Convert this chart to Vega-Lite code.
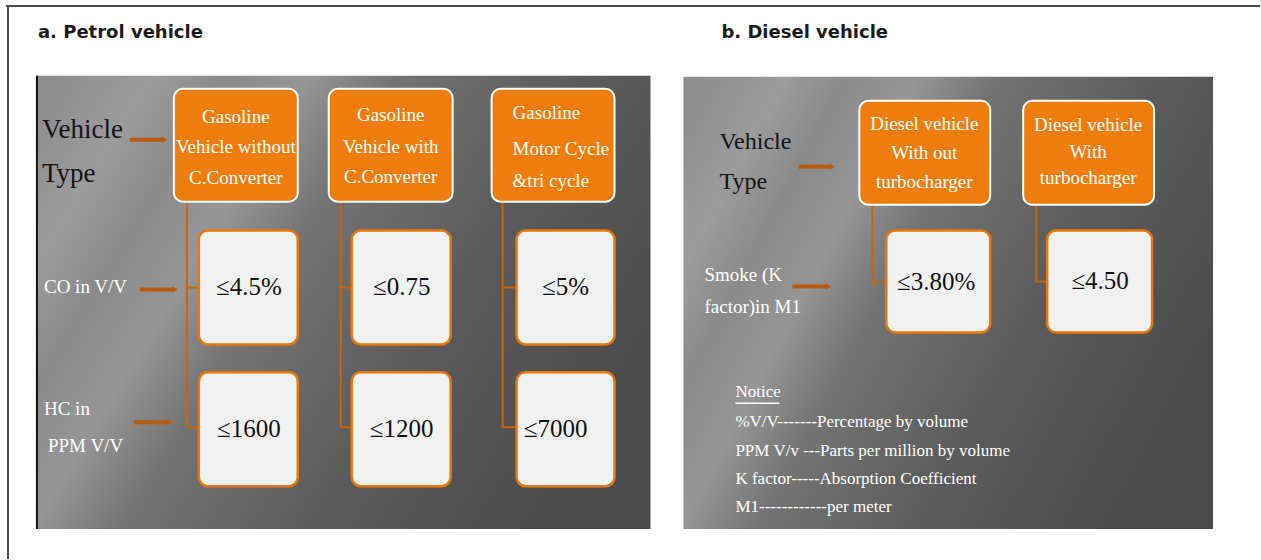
{
  "$schema": "https://vega.github.io/schema/vega-lite/v6.json",
  "width": 1261,
  "height": 560,
  "autosize": {"type": "fit", "contains": "padding"},
  "padding": 0,
  "background": "#ffffff",
  "config": {"view": {"stroke": null}},
  "datasets": {
    "frame": [
      {"x": 6, "x2": 1261, "y": 6, "y2": 6},
      {"x": 8, "x2": 8, "y": 6, "y2": 560}
    ],
    "panels": [
      {"panel": "a", "x": 36, "x2": 651, "y": 76, "y2": 530},
      {"panel": "b", "x": 684, "x2": 1214, "y": 77, "y2": 530}
    ],
    "edges": [
      {"x": 37, "x2": 37, "y": 76, "y2": 530}
    ],
    "connectors": [
      {"x": 187, "x2": 187, "y": 202, "y2": 428},
      {"x": 187, "x2": 200, "y": 288, "y2": 288},
      {"x": 187, "x2": 200, "y": 428, "y2": 428},
      {"x": 341, "x2": 341, "y": 202, "y2": 428},
      {"x": 341, "x2": 353, "y": 288, "y2": 288},
      {"x": 341, "x2": 353, "y": 428, "y2": 428},
      {"x": 503, "x2": 503, "y": 202, "y2": 428},
      {"x": 503, "x2": 517, "y": 288, "y2": 288},
      {"x": 503, "x2": 517, "y": 428, "y2": 428},
      {"x": 873, "x2": 873, "y": 205, "y2": 283},
      {"x": 873, "x2": 887, "y": 283, "y2": 283},
      {"x": 1037, "x2": 1037, "y": 205, "y2": 282},
      {"x": 1037, "x2": 1048, "y": 282, "y2": 282}
    ],
    "arrows": [
      {"x": 130, "x2": 163, "y": 140, "tip": 165},
      {"x": 140, "x2": 173, "y": 290, "tip": 175},
      {"x": 134, "x2": 168, "y": 423, "tip": 170},
      {"x": 799, "x2": 831, "y": 167, "tip": 833},
      {"x": 793, "x2": 827, "y": 287, "tip": 829}
    ],
    "typeBoxes": [
      {"x": 174, "x2": 298, "y": 89, "y2": 202},
      {"x": 329, "x2": 453, "y": 89, "y2": 202},
      {"x": 492, "x2": 615, "y": 89, "y2": 202},
      {"x": 860, "x2": 991, "y": 101, "y2": 205},
      {"x": 1024, "x2": 1155, "y": 101, "y2": 205}
    ],
    "valueBoxes": [
      {"x": 199, "x2": 298, "y": 231, "y2": 345},
      {"x": 352, "x2": 451, "y": 231, "y2": 345},
      {"x": 517, "x2": 615, "y": 231, "y2": 345},
      {"x": 199, "x2": 298, "y": 373, "y2": 487},
      {"x": 352, "x2": 451, "y": 373, "y2": 487},
      {"x": 517, "x2": 615, "y": 373, "y2": 487},
      {"x": 887, "x2": 991, "y": 231, "y2": 333},
      {"x": 1048, "x2": 1153, "y": 231, "y2": 333}
    ],
    "typeTextCentered": [
      {"x": 236, "y": 117, "t": "Gasoline"},
      {"x": 236, "y": 147, "t": "Vehicle without"},
      {"x": 236, "y": 178, "t": "C.Converter"},
      {"x": 391, "y": 115, "t": "Gasoline"},
      {"x": 391, "y": 147, "t": "Vehicle with"},
      {"x": 391, "y": 177, "t": "C.Converter"},
      {"x": 925, "y": 124, "t": "Diesel vehicle"},
      {"x": 925, "y": 153, "t": "With out"},
      {"x": 925, "y": 182, "t": "turbocharger"},
      {"x": 1089, "y": 125, "t": "Diesel vehicle"},
      {"x": 1089, "y": 152, "t": "With"},
      {"x": 1089, "y": 178, "t": "turbocharger"}
    ],
    "typeTextLeft": [
      {"x": 513, "y": 113, "t": "Gasoline"},
      {"x": 513, "y": 149, "t": "Motor Cycle"},
      {"x": 513, "y": 181, "t": "&tri cycle"}
    ],
    "values": [
      {"x": 249, "y": 288, "t": "≤4.5%"},
      {"x": 402, "y": 288, "t": "≤0.75"},
      {"x": 566, "y": 288, "t": "≤5%"},
      {"x": 249, "y": 430, "t": "≤1600"},
      {"x": 402, "y": 430, "t": "≤1200"},
      {"x": 556, "y": 430, "t": "≤7000"},
      {"x": 937, "y": 283, "t": "≤3.80%"},
      {"x": 1101, "y": 282, "t": "≤4.50"}
    ],
    "blackLabelsA": [
      {"x": 42, "y": 130, "t": "Vehicle"},
      {"x": 42, "y": 174, "t": "Type"}
    ],
    "blackLabelsB": [
      {"x": 720, "y": 142, "t": "Vehicle"},
      {"x": 720, "y": 182, "t": "Type"}
    ],
    "whiteLabels": [
      {"x": 44, "y": 288, "t": "CO in V/V"},
      {"x": 44, "y": 410, "t": "HC in"},
      {"x": 48, "y": 447, "t": "PPM V/V"},
      {"x": 705, "y": 275, "t": "Smoke (K"},
      {"x": 705, "y": 308, "t": "factor)in M1"}
    ],
    "notice": [
      {"x": 736, "y": 393, "t": "Notice"},
      {"x": 736, "y": 423, "t": "%V/V-------Percentage by volume"},
      {"x": 736, "y": 452, "t": "PPM V/v ---Parts per million by volume"},
      {"x": 736, "y": 480, "t": "K factor-----Absorption Coefficient"},
      {"x": 736, "y": 508, "t": "M1------------per meter"}
    ],
    "underline": [
      {"x": 736, "x2": 780, "y": 404, "y2": 404}
    ],
    "titles": [
      {"x": 38, "y": 33, "t": "a. Petrol vehicle"},
      {"x": 722, "y": 33, "t": "b. Diesel vehicle"}
    ]
  },
  "encoding": {
    "x": {"field": "x", "type": "quantitative", "scale": {"domain": [0, 1261], "nice": false, "zero": false}, "axis": null},
    "y": {"field": "y", "type": "quantitative", "scale": {"domain": [0, 560], "nice": false, "zero": false, "reverse": true}, "axis": null}
  },
  "layer": [
    {
      "data": {"name": "frame"},
      "mark": {"type": "rule", "color": "#4a4a4a", "strokeWidth": 2},
      "encoding": {"x2": {"field": "x2"}, "y2": {"field": "y2"}}
    },
    {
      "data": {"name": "panels"},
      "mark": {
        "type": "rect",
        "fill": {
          "gradient": "linear",
          "x1": 0, "y1": 0.1, "x2": 1, "y2": 0.55,
          "stops": [
            {"offset": 0, "color": "#8e8e8e"},
            {"offset": 0.12, "color": "#9c9c9c"},
            {"offset": 0.22, "color": "#8a8a8a"},
            {"offset": 0.33, "color": "#969696"},
            {"offset": 0.45, "color": "#747474"},
            {"offset": 0.55, "color": "#6a6a6a"},
            {"offset": 0.7, "color": "#5c5c5c"},
            {"offset": 1, "color": "#4c4c4c"}
          ]
        }
      },
      "encoding": {"x2": {"field": "x2"}, "y2": {"field": "y2"}}
    },
    {
      "data": {"name": "edges"},
      "mark": {"type": "rule", "color": "#111111", "strokeWidth": 2},
      "encoding": {"x2": {"field": "x2"}, "y2": {"field": "y2"}}
    },
    {
      "data": {"name": "connectors"},
      "mark": {"type": "rule", "color": "#c8650c", "strokeWidth": 2},
      "encoding": {"x2": {"field": "x2"}, "y2": {"field": "y2"}}
    },
    {
      "data": {"name": "arrows"},
      "mark": {"type": "rule", "color": "#b95a10", "strokeWidth": 4},
      "encoding": {"x2": {"field": "x2"}}
    },
    {
      "data": {"name": "arrows"},
      "mark": {"type": "point", "shape": "triangle-right", "filled": true, "color": "#b95a10", "size": 45, "opacity": 1},
      "encoding": {"x": {"field": "tip", "type": "quantitative"}}
    },
    {
      "data": {"name": "typeBoxes"},
      "mark": {"type": "rect", "fill": "#ee7d0e", "stroke": "#ffffff", "strokeWidth": 2, "cornerRadius": 9},
      "encoding": {"x2": {"field": "x2"}, "y2": {"field": "y2"}}
    },
    {
      "data": {"name": "valueBoxes"},
      "mark": {"type": "rect", "fill": "#f1f1f1", "stroke": "#e8780c", "strokeWidth": 2.5, "cornerRadius": 9},
      "encoding": {"x2": {"field": "x2"}, "y2": {"field": "y2"}}
    },
    {
      "data": {"name": "typeTextCentered"},
      "mark": {"type": "text", "font": "Liberation Serif", "fontSize": 19, "color": "#ffffff", "align": "center", "baseline": "middle"},
      "encoding": {"text": {"field": "t"}}
    },
    {
      "data": {"name": "typeTextLeft"},
      "mark": {"type": "text", "font": "Liberation Serif", "fontSize": 19, "color": "#ffffff", "align": "left", "baseline": "middle"},
      "encoding": {"text": {"field": "t"}}
    },
    {
      "data": {"name": "values"},
      "mark": {"type": "text", "font": "Liberation Serif", "fontSize": 25, "color": "#111111", "align": "center", "baseline": "middle"},
      "encoding": {"text": {"field": "t"}}
    },
    {
      "data": {"name": "blackLabelsA"},
      "mark": {"type": "text", "font": "Liberation Serif", "fontSize": 27, "color": "#141414", "align": "left", "baseline": "middle"},
      "encoding": {"text": {"field": "t"}}
    },
    {
      "data": {"name": "blackLabelsB"},
      "mark": {"type": "text", "font": "Liberation Serif", "fontSize": 24, "color": "#141414", "align": "left", "baseline": "middle"},
      "encoding": {"text": {"field": "t"}}
    },
    {
      "data": {"name": "whiteLabels"},
      "mark": {"type": "text", "font": "Liberation Serif", "fontSize": 19, "color": "#ffffff", "align": "left", "baseline": "middle"},
      "encoding": {"text": {"field": "t"}}
    },
    {
      "data": {"name": "notice"},
      "mark": {"type": "text", "font": "Liberation Serif", "fontSize": 17, "color": "#ffffff", "align": "left", "baseline": "middle"},
      "encoding": {"text": {"field": "t"}}
    },
    {
      "data": {"name": "underline"},
      "mark": {"type": "rule", "color": "#ffffff", "strokeWidth": 1.5},
      "encoding": {"x2": {"field": "x2"}, "y2": {"field": "y2"}}
    },
    {
      "data": {"name": "titles"},
      "mark": {"type": "text", "font": "DejaVu Sans", "fontWeight": "bold", "fontSize": 18, "letterSpacing": 0.3, "color": "#1a1a1a", "align": "left", "baseline": "middle"},
      "encoding": {"text": {"field": "t"}}
    }
  ]
}
